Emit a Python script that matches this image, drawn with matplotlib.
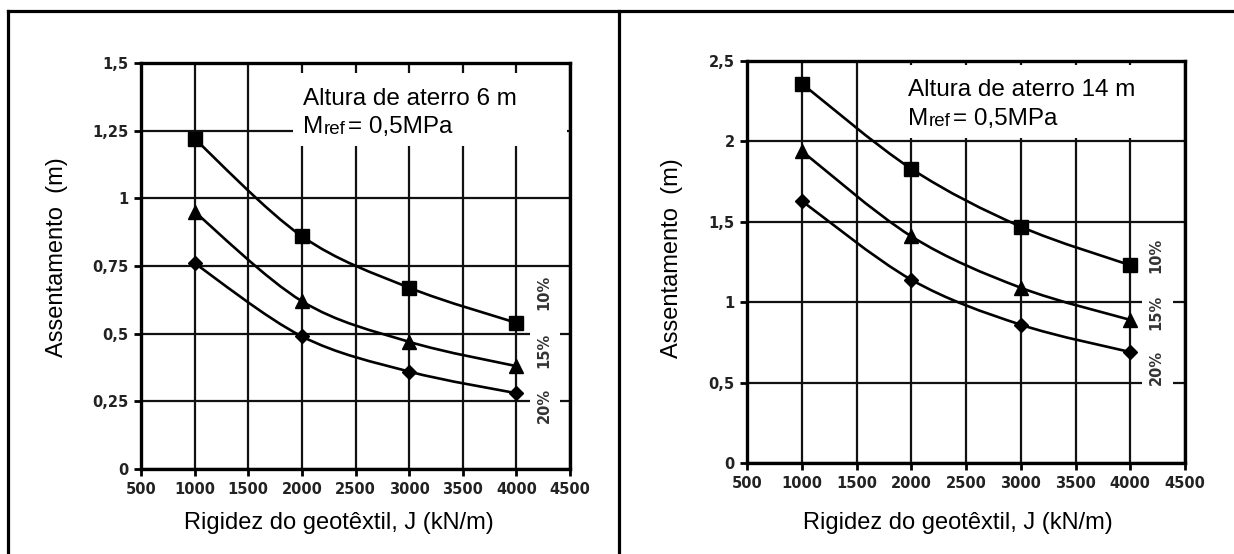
import matplotlib
matplotlib.use("Agg")
import matplotlib.pyplot as plt
from matplotlib.path import Path
from matplotlib.patches import PathPatch, Rectangle
from matplotlib.lines import Line2D
from matplotlib.transforms import IdentityTransform
import numpy as np

# ---------------- data ----------------
J = [1000, 2000, 3000, 4000]
x_ticks = [500, 1000, 1500, 2000, 2500, 3000, 3500, 4000, 4500]

h6_10 = [1.22, 0.86, 0.67, 0.54]
h6_15 = [0.95, 0.62, 0.47, 0.38]
h6_20 = [0.76, 0.49, 0.36, 0.28]
y6_ticks = [0, 0.25, 0.5, 0.75, 1, 1.25, 1.5]
y6_labels = ["0", "0,25", "0,5", "0,75", "1", "1,25", "1,5"]

h14_10 = [2.36, 1.83, 1.47, 1.23]
h14_15 = [1.94, 1.41, 1.09, 0.89]
h14_20 = [1.63, 1.14, 0.86, 0.69]
y14_ticks = [0, 0.5, 1, 1.5, 2, 2.5]
y14_labels = ["0", "0,5", "1", "1,5", "2", "2,5"]

pct_labels = ["10%", "15%", "20%"]
markers = ["s", "^", "D"]

W, H = 1234, 554
fig = plt.figure(figsize=(W / 100, H / 100), dpi=100)
IT = IdentityTransform()

def px(x0, y0, x1, y1):
    # pixel box (top-left origin) -> figure fraction rect
    return [x0 / W, (H - y1) / H, (x1 - x0) / W, (y1 - y0) / H]

def smooth_path(xs, ys):
    xs = np.asarray(xs, float); ys = np.asarray(ys, float)
    n = len(xs)
    verts = [(xs[0], ys[0])]
    codes = [Path.MOVETO]
    for i in range(n - 1):
        p0 = np.array([xs[max(i - 1, 0)], ys[max(i - 1, 0)]])
        p1 = np.array([xs[i], ys[i]])
        p2 = np.array([xs[i + 1], ys[i + 1]])
        p3 = np.array([xs[min(i + 2, n - 1)], ys[min(i + 2, n - 1)]])
        c1 = p1 + (p2 - p0) / 6.0
        c2 = p2 - (p3 - p1) / 6.0
        verts += [tuple(c1), tuple(c2), tuple(p2)]
        codes += [Path.CURVE4] * 3
    return Path(verts, codes)

tick_font = dict(family="DejaVu Sans", weight="bold", size=10.5)
label_font = dict(family="Liberation Sans", size=17)
box_size = 17.5

def make_panel(rect, series, yticks, ylabels, ymax, box, col, title, text_xy,
               pct_pos, xlabel_xy, ylabel_xy):
    ax = fig.add_axes(rect)
    ax.set_xlim(500, 4500)
    ax.set_ylim(0, ymax)
    ax.set_xticks(x_ticks)
    ax.set_xticklabels([str(v) for v in x_ticks], fontdict=tick_font,
                       color="#222222")
    ax.set_yticks(yticks)
    ax.set_yticklabels(ylabels, fontdict=tick_font, color="#222222")
    ax.tick_params(length=5, width=2, direction="out", pad=4)
    for s in ax.spines.values():
        s.set_linewidth(2.4)
        s.set_color("black")
        s.set_zorder(6)
    ax.grid(True, color="#111111", linewidth=1.6)
    ax.set_axisbelow(True)
    # white box for annotation text
    ax.add_patch(Rectangle((box[0], box[1]), box[2] - box[0], box[3] - box[1],
                           facecolor="white", edgecolor="none", zorder=2))
    ax.add_patch(Rectangle((col[0], col[1]), col[2] - col[0], col[3] - col[1],
                           facecolor="white", edgecolor="none", zorder=2))
    for ys, mk in zip(series, markers):
        ax.add_patch(PathPatch(smooth_path(J, ys), facecolor="none",
                               edgecolor="black", linewidth=1.9, zorder=4))
        ms = {"s": 9.5, "^": 10.5, "D": 7.5}[mk]
        ax.plot(J, ys, linestyle="none", marker=mk, markersize=ms,
                color="black", zorder=5, clip_on=False)
    # percent labels
    for lab, (x, y) in zip(pct_labels, pct_pos):
        fig.text(x, H - y, lab, transform=IT, rotation=90, ha="center",
                 va="center", family="DejaVu Sans", weight="bold", size=10.5,
                 color="#333333", zorder=7)
    # box text
    tx, ty1, ty2 = text_xy
    fig.text(tx, H - ty1, title, transform=IT, family="Liberation Sans",
             size=box_size, va="baseline", ha="left", zorder=7)
    m = fig.text(tx, H - ty2, "M", transform=IT, family="Liberation Sans",
                 size=box_size, va="baseline", ha="left", zorder=7)
    r = ax.annotate("ref", xy=(1, 0), xycoords=m, xytext=(0.5, 0),
                    textcoords="offset points", family="Liberation Sans",
                    size=13.5, va="bottom", ha="left", zorder=7,
                    annotation_clip=False)
    ax.annotate("= 0,5MPa", xy=(1, 0), xycoords=r, xytext=(1.5, 0),
                textcoords="offset points", family="Liberation Sans",
                size=box_size, va="bottom", ha="left", zorder=7,
                annotation_clip=False)
    fig.text(xlabel_xy[0], H - xlabel_xy[1], "Rigidez do geotêxtil, J (kN/m)",
             transform=IT, ha="center", va="center", **label_font)
    fig.text(ylabel_xy[0], H - ylabel_xy[1], "Assentamento  (m)",
             transform=IT, ha="center", va="center", rotation=90, **label_font)
    return ax

make_panel(px(141, 63, 570, 469), [h6_10, h6_15, h6_20], y6_ticks, y6_labels,
           1.5, box=(1917, 1.193, 4470, 1.463), col=(4127, 0.181, 4407, 0.717),
           title="Altura de aterro 6 m", text_xy=(303, 105, 133),
           pct_pos=[(544, 292), (544, 350), (544, 405)],
           xlabel_xy=(339, 523), ylabel_xy=(57, 257))

make_panel(px(747, 61, 1185, 463), [h14_10, h14_15, h14_20], y14_ticks,
           y14_labels, 2.5, box=(1897, 2.021, 4470, 2.475),
           col=(4107, 0.454, 4390, 1.418),
           title="Altura de aterro 14 m", text_xy=(908, 96, 125),
           pct_pos=[(1156, 255), (1156, 312), (1156, 367)],
           xlabel_xy=(958, 523), ylabel_xy=(672, 258))

# table-like frame
for (xa, ya, xb, yb) in [(8, 11, W, 11), (8, 11, 8, H), (619, 11, 619, H)]:
    fig.add_artist(Line2D([xa, xb], [H - ya, H - yb], transform=IT,
                          color="black", linewidth=2.3))

fig.savefig("out.png", dpi=100, facecolor="white")
